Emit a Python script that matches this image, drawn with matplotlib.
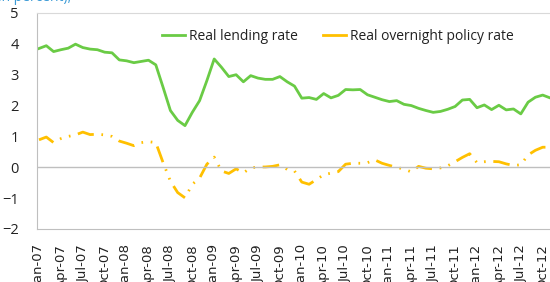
import numpy as np
import pandas as pd
import matplotlib
matplotlib.use("Agg")
import matplotlib.pyplot as plt

# monthly data, Jan-2007 .. Nov-2012
months = pd.date_range("2007-01-01", periods=71, freq="MS")

lending = [3.85, 3.94, 3.75, 3.81, 3.86, 3.99, 3.88, 3.83, 3.81, 3.73,
           3.71, 3.48, 3.45, 3.39, 3.43, 3.47, 3.32, 2.59, 1.84, 1.52,
           1.35, 1.78, 2.16, 2.81, 3.51, 3.24, 2.94, 3.00, 2.77, 2.97,
           2.89, 2.85, 2.85, 2.94, 2.77, 2.63, 2.24, 2.26, 2.20, 2.39,
           2.25, 2.33, 2.52, 2.51, 2.52, 2.35, 2.27, 2.19, 2.13, 2.16,
           2.04, 2.00, 1.91, 1.84, 1.78, 1.81, 1.88, 1.97, 2.18, 2.20,
           1.93, 2.02, 1.87, 2.01, 1.86, 1.89, 1.73, 2.11, 2.27, 2.34,
           2.25]

overnight = [0.89, 0.98, 0.80, 0.93, 1.00, 1.05, 1.14, 1.06, 1.07, 1.05,
             1.00, 0.85, 0.78, 0.70, 0.80, 0.83, 0.80, 0.15, -0.45, -0.82,
             -0.99, -0.55, -0.35, 0.10, 0.33, -0.12, -0.20, -0.05, -0.18, -0.02,
             0.01, 0.01, 0.03, 0.08, -0.07, -0.12, -0.48, -0.55, -0.40, -0.24,
             -0.19, -0.14, 0.10, 0.13, 0.13, 0.15, 0.24, 0.13, 0.06, 0.00,
             -0.06, -0.15, 0.03, -0.03, -0.05, -0.02, 0.05, 0.18, 0.32, 0.44,
             0.15, 0.18, 0.19, 0.18, 0.11, 0.06, 0.08, 0.40, 0.55, 0.65,
             0.65]

tick_idx = list(range(0, 71, 3))
tick_labels = [months[i].strftime("%b-%y") for i in tick_idx]

plt.rcParams['lines.scale_dashes'] = False

fig = plt.figure(figsize=(5.5, 2.82), dpi=100)
# axes area in pixels: left 37, top 13, bottom 229, running past the right edge
ax = fig.add_axes([37/550, (282-229)/282, 520/550, 216/282])

x = np.arange(len(months))
ax.plot(x, lending, color='#6ACB45', lw=2.0, label='Real lending rate',
        solid_joinstyle='round')
ax.plot(x, overnight, color='#FFC000', lw=2.0, label='Real overnight policy rate',
        linestyle=(0, (12, 5.5, 1.2, 5.5, 1.2, 5.5)), dash_capstyle='butt')

ax.axhline(0, color='#BFBFBF', lw=1)
ax.set_xlim(-0.274, 70.96)
ax.set_ylim(-2, 5)
ax.set_yticks(range(-2, 6))
ax.set_xticks(tick_idx)
ax.set_xticklabels(tick_labels, rotation=90, fontfamily='DejaVu Sans', fontsize=9.5)
ax.tick_params(axis='x', length=0, pad=11, colors='#222222')
ax.tick_params(axis='y', length=0, pad=13, labelsize=10.5, colors='#222222')
for lab in ax.get_yticklabels():
    lab.set_fontfamily('Open Sans')

for s in ['left', 'bottom']:
    ax.spines[s].set_color('#BFBFBF')
ax.spines['top'].set_color('#D9D9D9')
ax.spines['right'].set_visible(False)

leg = ax.legend(loc='upper left', bbox_to_anchor=(0.217, 0.985), ncol=2,
                frameon=False, handlelength=1.6, handletextpad=0.35,
                columnspacing=1.8, prop={'family': 'Open Sans', 'size': 10})
leg.get_lines()[1].set_linestyle('-')
for t in leg.get_texts():
    t.set_color('#222222')

# title sitting above the crop, only its lower part shows
fig.text(-0.01, 1.008, '(in percent),', color='#3C9BD6', fontsize=10,
         fontfamily='Open Sans', va='center', ha='left')

fig.savefig('out.png', dpi=100)
